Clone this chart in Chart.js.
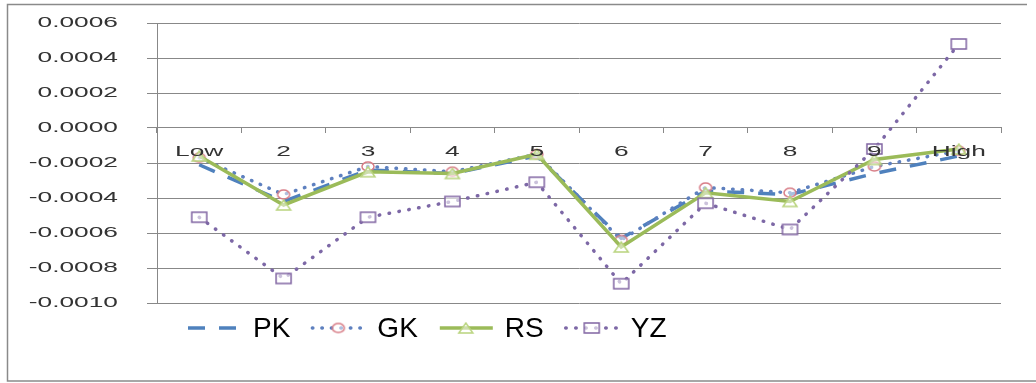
<!DOCTYPE html>
<html lang="en">
<head>
  <meta charset="UTF-8">
  <title>PK GK RS YZ</title>
  <script src="https://cdn.jsdelivr.net/npm/chart.js"></script>
  <style>
    body { margin: 0; background: #fff; }
    canvas { display: block; }
  </style>
</head>
<body>
  <canvas id="volChart" width="1036" height="383"></canvas>

  <script>
    // data
    const categories = ["Low", "2", "3", "4", "5", "6", "7", "8", "9", "High"];
    const pk = [-0.00021, -0.00042, -0.00024, -0.00026, -0.00016, -0.00063, -0.00036, -0.00038, -0.00026, -0.00016];
    const gk = [-0.00017, -0.00038, -0.00022, -0.00025, -0.00015, -0.00064, -0.00034, -0.00037, -0.00022, -0.00013];
    const rs = [-0.00016, -0.00044, -0.00025, -0.00026, -0.00015, -0.00068, -0.00037, -0.00042, -0.00018, -0.00012];
    const yz = [-0.00051, -0.00086, -0.00051, -0.00042, -0.00031, -0.00089, -0.00043, -0.00058, -0.00012, 0.00048];

    const SX = 1.88; // the tick text in the original is stretched sideways

    function marker(w, h, draw) {
      const c = document.createElement("canvas");
      c.width = w + 4;
      c.height = h + 4;
      const g = c.getContext("2d");
      g.translate(2, 2);
      draw(g, w, h);
      return c;
    }
    const circleMark = marker(12, 9, (g, w, h) => {
      g.beginPath();
      g.ellipse(w / 2, h / 2, w / 2, h / 2, 0, 0, Math.PI * 2);
      g.fillStyle = "rgba(255,255,255,0.5)";
      g.fill();
      g.strokeStyle = "#D77C86";
      g.lineWidth = 1.5;
      g.stroke();
    });
    const triMark = marker(14, 10, (g, w, h) => {
      g.beginPath();
      g.moveTo(w / 2, 0);
      g.lineTo(w, h);
      g.lineTo(0, h);
      g.closePath();
      g.fillStyle = "rgba(255,255,255,0.5)";
      g.fill();
      g.strokeStyle = "#B9D47E";
      g.lineWidth = 1.5;
      g.stroke();
    });
    const squareMark = marker(15, 10, (g, w, h) => {
      g.fillStyle = "rgba(255,255,255,0.6)";
      g.fillRect(0, 0, w, h);
      g.strokeStyle = "#8064A2";
      g.lineWidth = 1.5;
      g.strokeRect(0, 0, w, h);
    });

    function stretchedText(ctx, text, x, y, align) {
      ctx.save();
      ctx.translate(x, y);
      ctx.scale(SX, 1);
      ctx.textAlign = align;
      ctx.textBaseline = "middle";
      ctx.fillText(text, 0, 0);
      ctx.restore();
    }

    const tickText = {
      id: "tickText",
      afterDraw(chart) {
        const ctx = chart.ctx;
        const ys = chart.scales.y, xs = chart.scales.x;
        ctx.save();
        ctx.fillStyle = "#333";
        ctx.font = '14px "Liberation Sans", Arial, sans-serif';
        ys.ticks.forEach((t, i) => {
          let v = Math.abs(t.value) < 1e-9 ? 0 : t.value;
          stretchedText(ctx, v.toFixed(4), 118, ys.getPixelForTick(i), "right");
        });
        categories.forEach((c, i) => {
          stretchedText(ctx, c, xs.getPixelForTick(i), 152, "center");
        });
        ctx.restore();
      }
    };

    const legendLine = {
      id: "legendLine",
      afterDraw(chart) {
        const ctx = chart.ctx;
        let x = 188;
        const y = 328;
        ctx.save();
        ctx.font = '28px "Liberation Sans", Arial, sans-serif';
        ctx.textBaseline = "middle";
        chart.data.datasets.forEach(ds => {
          ctx.save();
          ctx.strokeStyle = ds.borderColor;
          ctx.lineWidth = ds.borderWidth;
          ctx.lineCap = ds.borderCapStyle || "butt";
          ctx.setLineDash(ds.borderDash || []);
          ctx.beginPath();
          ctx.moveTo(x, y);
          ctx.lineTo(x + 53, y);
          ctx.stroke();
          ctx.restore();
          if (ds.pointStyle instanceof HTMLCanvasElement) {
            const m = ds.pointStyle;
            ctx.drawImage(m, x + 26 - m.width / 2, y - m.height / 2);
          }
          ctx.fillStyle = "#000";
          ctx.fillText(ds.label, x + 65, y + 1);
          x += 65 + ctx.measureText(ds.label).width + 22;
        });
        ctx.restore();
      }
    };

    const frame = {
      id: "frame",
      beforeDraw(chart) {
        const ctx = chart.ctx;
        ctx.save();
        ctx.strokeStyle = "#8a8a8a";
        ctx.lineWidth = 1.5;
        ctx.beginPath();
        ctx.moveTo(1027, 4.5);
        ctx.lineTo(7.5, 4.5);
        ctx.lineTo(7.5, 381);
        ctx.lineTo(1036, 381);
        ctx.stroke();
        ctx.restore();
      }
    };

    new Chart(document.getElementById("volChart"), {
      type: "line",
      data: {
        labels: categories,
        datasets: [
          {
            label: "PK", data: pk, order: 4,
            borderColor: "#4F81BD", borderWidth: 3.5, borderDash: [17, 14],
            pointRadius: 0
          },
          {
            label: "GK", data: gk, order: 3,
            borderColor: "#5E80BF", borderWidth: 3.5, borderDash: [0.5, 9], borderCapStyle: "round",
            pointStyle: circleMark, pointRadius: 5
          },
          {
            label: "RS", data: rs, order: 2,
            borderColor: "#9BBB59", borderWidth: 3.5,
            pointStyle: triMark, pointRadius: 5
          },
          {
            label: "YZ", data: yz, order: 1,
            borderColor: "#7D68A6", borderWidth: 3.5, borderDash: [0.5, 9.5], borderCapStyle: "round",
            pointStyle: squareMark, pointRadius: 5
          }
        ]
      },
      options: {
        responsive: false,
        animation: false,
        layout: { padding: { left: 0, right: 35, top: 23, bottom: 80 } },
        plugins: {
          legend: { display: false },
          tooltip: { enabled: false }
        },
        elements: { line: { tension: 0, fill: false } },
        scales: {
          x: {
            position: { y: 0 },
            offset: true,
            grid: { drawOnChartArea: false, offset: true, tickLength: 5, color: "#888" },
            border: { color: "#888" },
            ticks: { color: "transparent", font: { size: 1 } }
          },
          y: {
            min: -0.001,
            max: 0.0006,
            ticks: { stepSize: 0.0002, color: "transparent" },
            grid: { color: "#888", tickLength: 10 },
            border: { color: "#888" },
            afterFit: s => { s.width = 157; }
          }
        }
      },
      plugins: [frame, tickText, legendLine]
    });
  </script>
</body>
</html>
